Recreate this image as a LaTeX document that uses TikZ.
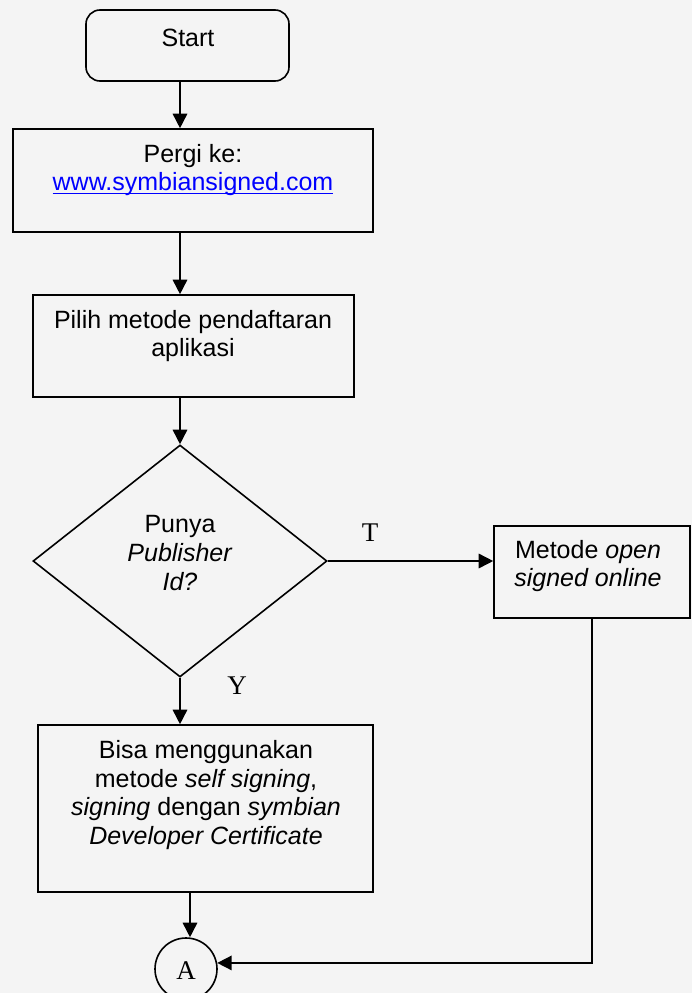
\documentclass[tikz,border=0pt]{standalone}
\usepackage{fontspec}
\setmainfont{Liberation Sans}
\newfontfamily\serifA{Liberation Serif}
\usetikzlibrary{arrows.meta,shapes.geometric}
\definecolor{bgcol}{HTML}{F4F4F4}
\definecolor{urlblue}{RGB}{0,0,255}
\newcommand\myul[1]{\setbox0\hbox{#1}\rlap{\rule[-3.2pt]{\wd0}{1.4pt}}\box0}
\tikzset{
  boxline/.style={draw=black, line width=1.6pt},
  procbox/.style={boxline, rectangle, inner sep=0pt, fill=none},
  startbox/.style={boxline, rectangle, rounded corners=14pt, inner sep=0pt},
  decbox/.style={boxline, diamond, inner sep=0pt},
  conn/.style={boxline, circle, inner sep=0pt, minimum size=62pt},
  txt/.style={align=center, inner sep=0pt, font=\fontsize{25}{28.6}\selectfont},
  lbl/.style={inner sep=0pt, font=\serifA\fontsize{27}{30}\selectfont},
  arr/.style={draw=black, line width=1.6pt, -{Triangle[length=14.5pt,width=14.5pt]}},
  ln/.style={draw=black, line width=1.6pt}
}
\begin{document}
\begin{tikzpicture}[x=1pt,y=-1pt]
\clip (0,0) rectangle (692,993);
\fill[bgcol] (0,0) rectangle (692,993);
% spine coordinates
\coordinate (col) at (180,0);
\coordinate (col2) at (190,0);
% nodes
\node[startbox, minimum width=203pt, minimum height=71pt] (start) at (187.5,45.5) {};
\node[txt] (startt) at (188,38) {Start};
\node[procbox, minimum width=360pt, minimum height=103pt] (pergi) at (193,180.5) {};
\node[txt] (pergit) at (193,170) {Pergi ke:\\\textcolor{urlblue}{\myul{www.symbiansigned.com}}};
\node[procbox, minimum width=321pt, minimum height=102pt] (pilih) at (193.5,346) {};
\node[txt] (piliht) at (193,336) {Pilih metode pendaftaran\\aplikasi};
\node[decbox, minimum width=294pt, minimum height=232pt] (dec) at (180,561) {};
\node[txt] (dect) at (180,553) {Punya\\\textit{Publisher}\\\textit{Id?}};
\node[procbox, minimum width=196pt, minimum height=92pt] (metode) at (592,572) {};
\node[txt] (metodet) at (588,566) {Metode \textit{open}\\\textit{signed online}};
\node[procbox, minimum width=335pt, minimum height=167pt] (bisa) at (205.5,808.5) {};
\node[txt] (bisat) at (206,795) {Bisa menggunakan\\metode \textit{self signing},\\\textit{signing} dengan \textit{symbian}\\\textit{Developer Certificate}};
\node[conn] (A) at (186,969) {};
\node[lbl] (At) at (186,971) {A};
\node[lbl] (T) at (370,533) {T};
\node[lbl] (Y) at (237,686) {Y};
% connectors
\draw[arr] (start.south -| col) -- (pergi.north -| col);
\draw[arr] (pergi.south -| col) -- (pilih.north -| col);
\draw[arr] (pilih.south -| col) -- (dec.north);
\draw[arr] (dec.east) -- (metode.west |- dec.east);
\draw[arr] (dec.south) -- (bisa.north -| dec.south);
\draw[arr] (bisa.south -| col2) -- (col2 |- A.north);
\draw[arr] (metode.south) |- (A.11);
\end{tikzpicture}
\end{document}
